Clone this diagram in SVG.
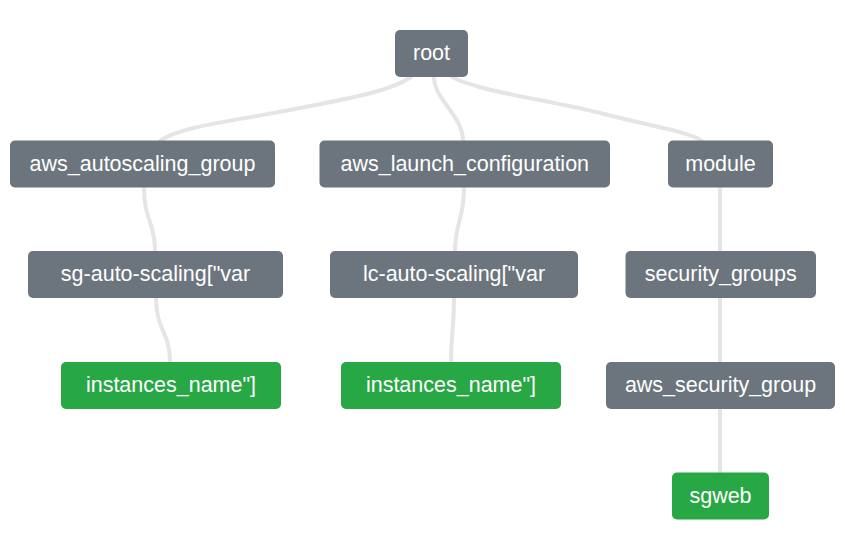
<svg xmlns="http://www.w3.org/2000/svg" width="845" height="550" viewBox="0 0 845 550">
<style>
.e{fill:none;stroke:#e5e5e5;stroke-width:4;stroke-linecap:round}
.n rect{rx:5;ry:5}
.g rect{fill:#6c757d}
.l rect{fill:#28a745}
.n text{fill:#fff;font-family:"Liberation Sans",Arial,sans-serif;font-size:21.5px;text-anchor:middle;dominant-baseline:central}
</style>
<rect width="845" height="550" fill="#fff"/>
<g id="connectors">
<path class="e" d="M411,77 C390,92 340,100 290,110 S180,126 160,141"/>
<path class="e" d="M434,77 C434,100 463,115 463,141"/>
<path class="e" d="M452,77 C480,92 550,100 600,113 S690,132 702,141"/>
<path class="e" d="M144,188 C144,220 155,222 155,251"/>
<path class="e" d="M156,298 C156,330 170,332 170,362"/>
<path class="e" d="M464,188 C464,220 455,222 455,251"/>
<path class="e" d="M454,298 C454,330 451,332 451,362"/>
<path class="e" d="M720,188 L720,251"/>
<path class="e" d="M720,298 L720,362"/>
<path class="e" d="M720,409 L720,472"/>
</g>
<g id="root" class="n g"><rect x="395" y="30" width="73" height="47"/><text x="431.5" y="53">root</text></g>
<g id="aws_autoscaling_group" class="n g"><rect x="10" y="140.5" width="265" height="47"/><text x="142.5" y="163.5">aws_autoscaling_group</text></g>
<g id="aws_launch_configuration" class="n g"><rect x="319.5" y="140.5" width="290.5" height="47"/><text x="464.75" y="163.5">aws_launch_configuration</text></g>
<g id="module" class="n g"><rect x="668" y="140.5" width="105" height="47"/><text x="720.5" y="163.5">module</text></g>
<g id="sg-auto-scaling" class="n g"><rect x="28" y="251" width="255" height="47"/><text x="155.5" y="274">sg-auto-scaling["var</text></g>
<g id="lc-auto-scaling" class="n g"><rect x="330" y="251" width="248" height="47"/><text x="454" y="274">lc-auto-scaling["var</text></g>
<g id="security_groups" class="n g"><rect x="625.5" y="251" width="190.5" height="47"/><text x="720.75" y="274">security_groups</text></g>
<g id="instances_name_1" class="n l"><rect x="61" y="362" width="220" height="47"/><text x="171" y="385">instances_name"]</text></g>
<g id="instances_name_2" class="n l"><rect x="341" y="362" width="220" height="47"/><text x="451" y="385">instances_name"]</text></g>
<g id="aws_security_group" class="n g"><rect x="606" y="362" width="229" height="47"/><text x="720.5" y="385">aws_security_group</text></g>
<g id="sgweb" class="n l"><rect x="672" y="472.5" width="97" height="47"/><text x="720.5" y="495.5">sgweb</text></g>
</svg>
